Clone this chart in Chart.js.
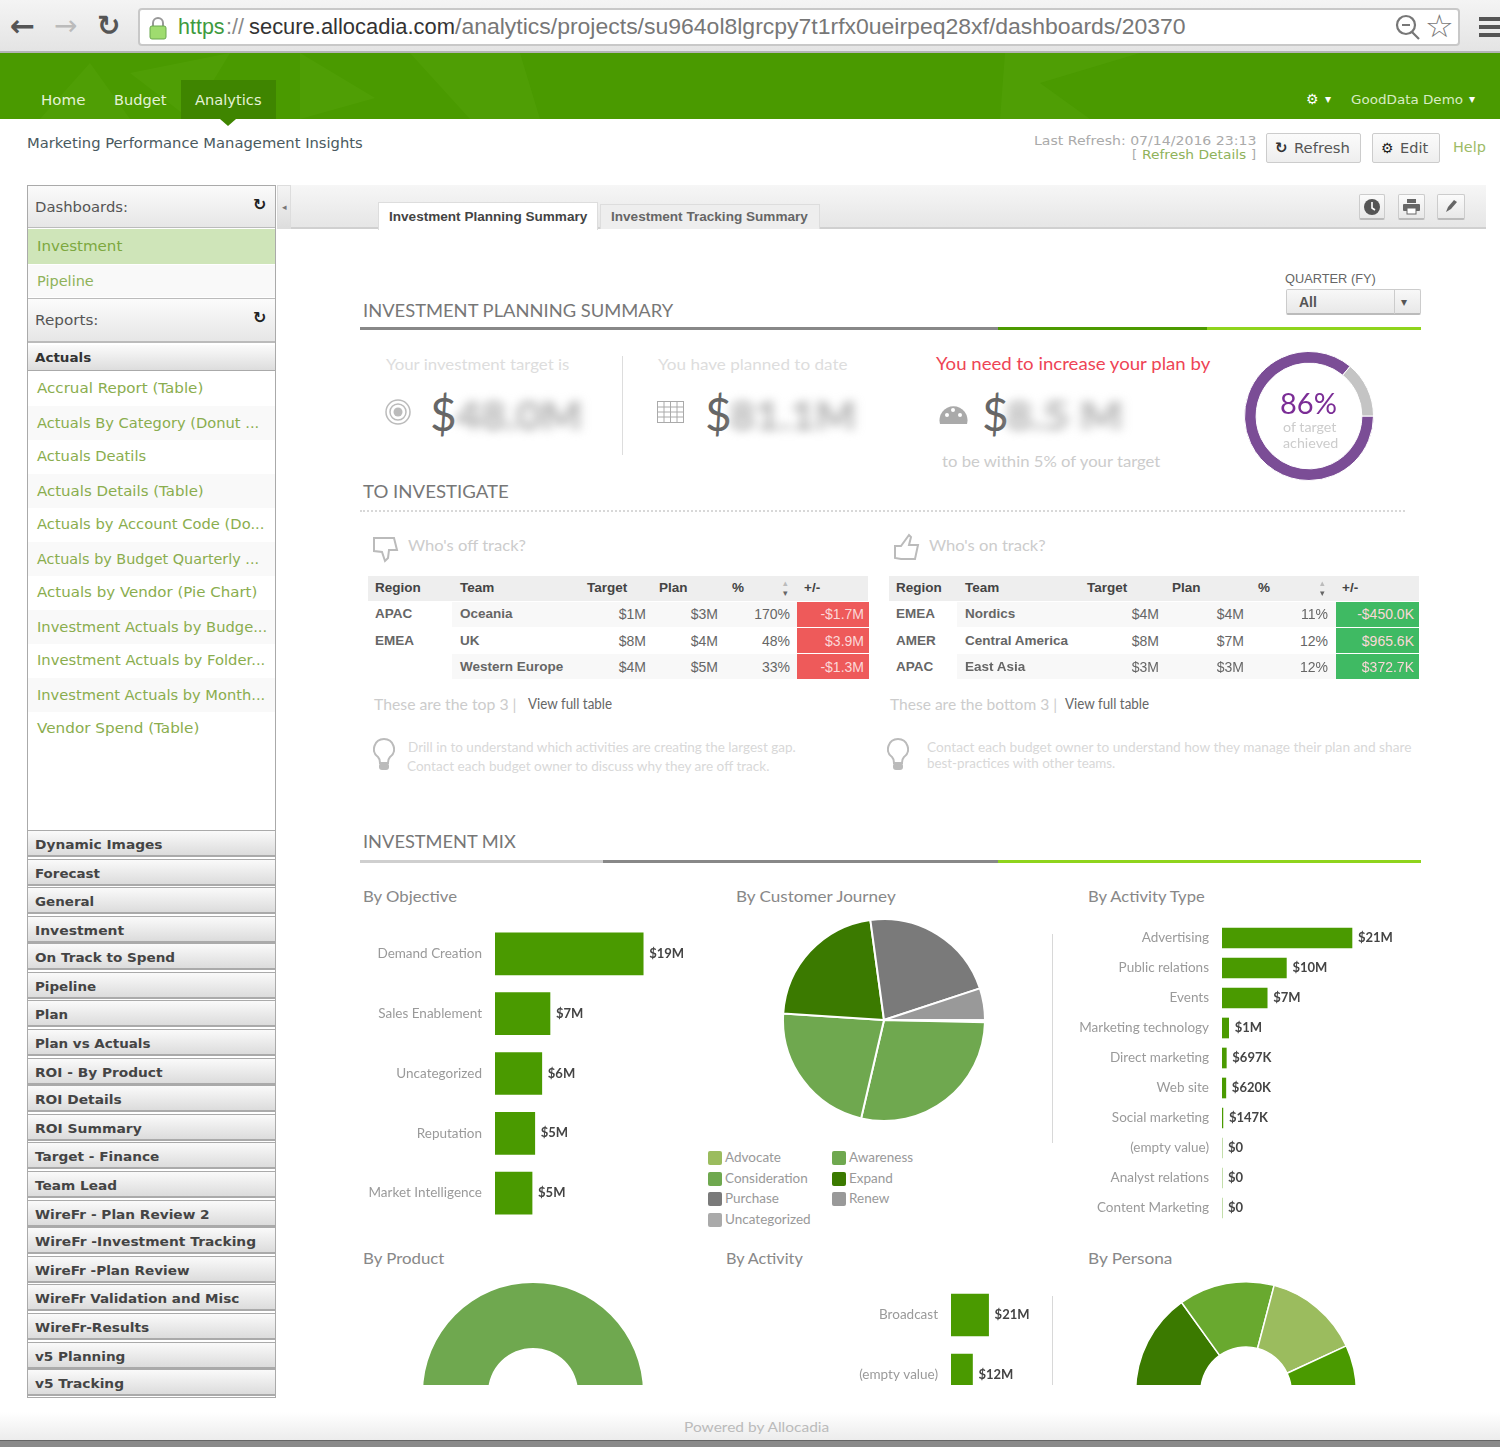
<!DOCTYPE html>
<html><head><meta charset="utf-8">
<script src="https://cdn.jsdelivr.net/npm/chart.js@4/dist/chart.umd.js"></script>
<style>
html,body{margin:0;padding:0;background:#fff}
#root{position:relative;width:1500px;height:1447px;overflow:hidden;background:#fff;font-family:Lato,sans-serif}
#root div,#root canvas,#root svg{position:absolute}
.t{white-space:nowrap;line-height:1}
</style></head><body><div id="root"></div>
<script>
// ---------- DATA ----------
const objectiveLabels=["Demand Creation","Sales Enablement","Uncategorized","Reputation","Market Intelligence"];
const objectiveValues=[19,7.05,6,5.1,4.75];
const objectiveText=["$19M","$7M","$6M","$5M","$5M"];
const journeyLabels=["Advocate","Awareness","Consideration","Expand","Purchase","Renew","Uncategorized"];
const journeyValues=[0.2,28.3,22.4,21.8,22.1,5.1,0.1];
const journeyColors=["#9bbc5e","#6fa84f","#6fa84f","#3b7a00","#7a7a7a","#999999","#aaaaaa"];
const activityTypeLabels=["Advertising","Public relations","Events","Marketing technology","Direct marketing","Web site","Social marketing","(empty value)","Analyst relations","Content Marketing"];
const activityTypeValues=[21,10.4,7.3,1.08,0.697,0.62,0.147,0,0,0];
const activityTypeText=["$21M","$10M","$7M","$1M","$697K","$620K","$147K","$0","$0","$0"];
const activityLabels=["Broadcast","(empty value)"];
const activityValues=[21,12];
const activityText=["$21M","$12M"];
const productValues=[100];
const personaValues=[30.2,28,28,13.8];
const personaColors=["#3b7a00","#69a92f","#9bbc5e","#4a9a00"];
const targetValues=[86,14];
const offHeader=["Region","Team","Target","Plan","%","+/-"];
const offRows=[["APAC","Oceania","$1M","$3M","170%","-$1.7M"],["EMEA","UK","$8M","$4M","48%","$3.9M"],["","Western Europe","$4M","$5M","33%","-$1.3M"]];
const onRows=[["EMEA","Nordics","$4M","$4M","11%","-$450.0K"],["AMER","Central America","$8M","$7M","12%","$965.6K"],["APAC","East Asia","$3M","$3M","12%","$372.7K"]];
const reportItems=[["Accrual Report (Table)",388,203],["Actuals By Category (Donut ...",423,259],["Actuals Deatils",456,146],["Actuals Details (Table)",491,204],["Actuals by Account Code (Do...",524,264],["Actuals by Budget Quarterly ...",559,259],["Actuals by Vendor (Pie Chart)",592,257],["Investment Actuals by Budge...",627,267],["Investment Actuals by Folder...",660,265],["Investment Actuals by Month...",695,265],["Vendor Spend (Table)",728,199]];
const folderItems=[["Dynamic Images",844,163],["Forecast",873,100],["General",901,94],["Investment",930,124],["On Track to Spend",957,175],["Pipeline",986,96],["Plan",1014,68],["Plan vs Actuals",1043,150],["ROI - By Product",1072,163],["ROI Details",1099,122],["ROI Summary",1128,142],["Target - Finance",1156,159],["Team Lead",1185,117],["WireFr - Plan Review 2",1214,210],["WireFr -Investment Tracking",1241,256],["WireFr -Plan Review",1270,190],["WireFr Validation and Misc",1298,239],["WireFr-Results",1327,149],["v5 Planning",1356,125],["v5 Tracking",1383,124]];

// ---------- HELPERS ----------
const root=document.getElementById('root');
const DJ='"DejaVu Sans"',LS='"Liberation Sans"',LA='Lato';
function box(x,y,w,h,bg,extra){const d=document.createElement('div');d.style.cssText=`left:${x}px;top:${y}px;width:${w}px;height:${h}px;background:${bg};box-sizing:border-box;${extra||''}`;root.appendChild(d);return d;}
function T(x,y,s,o){o=o||{};const d=document.createElement('div');d.className='t';d.textContent=s;
 d.style.cssText+=`top:${y}px;font-family:${o.f||LA};font-size:${o.s||14}px;color:${o.c||'#666'};font-weight:${o.b?'700':(o.wt||'400')};${o.r?`right:${1500-x}px;`:`left:${x}px;`}${o.css||''}`;
 root.appendChild(d);let tr='translateY(-50%)';
 if(o.w){tr+=` scaleX(${o.w/d.offsetWidth})`;d.style.transformOrigin=o.r?'right center':'left center';}
 d.style.transform=tr;return d;}
function svg(x,y,w,h,inner){const n=document.createElementNS('http://www.w3.org/2000/svg','svg');n.setAttribute('width',w);n.setAttribute('height',h);n.setAttribute('viewBox',`0 0 ${w} ${h}`);n.style.left=x+'px';n.style.top=y+'px';n.innerHTML=inner;root.appendChild(n);return n;}
function canvas(x,y,w,h,clipH){const c=document.createElement('canvas');c.width=w;c.height=h;c.style.width=w+'px';c.style.height=h+'px';
 if(clipH){const wr=document.createElement('div');wr.style.cssText=`left:${x}px;top:${y}px;width:${w}px;height:${clipH}px;overflow:hidden`;c.style.left='0';c.style.top='0';wr.appendChild(c);root.appendChild(wr);}
 else{c.style.left=x+'px';c.style.top=y+'px';root.appendChild(c);}
 return c;}
const valueLabels={id:'valueLabels',afterDatasetsDraw(ch,a,opts){const g=ch.ctx;g.save();g.font='700 13px Lato';g.fillStyle='#444';g.textBaseline='middle';g.textAlign='left';
 ch.getDatasetMeta(0).data.forEach((b,i)=>g.fillText(opts.text[i],b.x+opts.gap,b.y));g.restore();}};
function hbar(left,top,w,h,axisW,labels,values,text,pxPerUnit,thick,clipH,tickSize){
 const c=canvas(left,top,w,h,clipH);
 new Chart(c,{type:'bar',plugins:[valueLabels],data:{labels,datasets:[{data:values,backgroundColor:'#4a9a00',barThickness:thick,borderSkipped:false}]},
 options:{indexAxis:'y',responsive:false,animation:false,layout:{padding:0},
  plugins:{legend:{display:false},tooltip:{enabled:false},valueLabels:{text,gap:6}},
  scales:{x:{display:false,min:0,max:(w-axisW)/pxPerUnit},
   y:{afterFit(s){s.width=axisW;s.paddingTop=0;s.paddingBottom=0;},grid:{display:false,drawTicks:false},border:{display:false},
    ticks:{autoSkip:false,padding:13,color:'#9a9a9a',font:{family:'Lato',size:tickSize||13.5}}}}}});
}
function arcChart(c,data,colors,opt){new Chart(c,{type:'doughnut',data:{labels:data.map((_,i)=>String(i)),datasets:[{data,backgroundColor:colors,borderColor:opt.bc||'#fff',borderWidth:opt.bw==null?2:opt.bw}]},
 options:{responsive:false,animation:false,layout:{padding:0},rotation:opt.rot,circumference:opt.circ,cutout:opt.cut,plugins:{legend:{display:false},tooltip:{enabled:false}}}});}

// ---------- BROWSER CHROME ----------
box(0,0,1500,53,'linear-gradient(#f4f4f4,#e4e4e4)','border-bottom:2px solid #b5b5b5');
box(138,8,1322,38,'#fff','border:2px solid #c8c8c8;border-radius:4px');
T(10,26,'←',{f:DJ,s:30,c:'#555',b:1});T(54,26,'→',{f:DJ,s:28,c:'#bbb'});T(97,26,'↻',{f:DJ,s:28,c:'#555',b:1});
svg(148,16,20,24,'<path d="M5 10V7a5 5 0 0 1 10 0v3" fill="none" stroke="#999" stroke-width="2"/><rect x="2" y="10" width="16" height="13" rx="2" fill="#9fdc6f" stroke="#6aa84f"/>');
T(178,28,'https',{f:LS,s:21.5,c:'#3e9a3e'});
T(226,28,'://',{f:LS,s:21.5,c:'#888'});
T(249,28,'secure.allocadia.com',{f:LS,s:21.5,c:'#333',w:206});
T(455,28,'/analytics/projects/su964ol8lgrcpy7t1rfx0ueirpeq28xf/dashboards/20370',{f:LS,s:21.5,c:'#777',w:731});
svg(1394,14,28,28,'<circle cx="12" cy="11" r="9" fill="none" stroke="#777" stroke-width="2.2"/><path d="M18 18l7 7M8 11h8" stroke="#777" stroke-width="2.2"/>');
T(1425,26,'☆',{f:DJ,s:32,c:'#777'});
box(1479,17,21,4,'#555');box(1479,25,21,4,'#555');box(1479,33,21,4,'#555');

// ---------- GREEN HEADER ----------
box(0,53,1500,66,'#4a9a00');
svg(0,53,1500,66,'<g fill="#5aa70f" opacity=".35"><polygon points="40,66 90,10 130,66"/><polygon points="130,20 230,0 190,66"/><polygon points="300,0 375,45 300,66"/><polygon points="410,0 520,0 540,66 470,66"/><polygon points="1000,66 1005,0 1140,0 1040,30 1090,66"/></g>');
T(41,100,'Home',{f:DJ,s:14,c:'#e4f2d6',w:44});T(114,100,'Budget',{f:DJ,s:14,c:'#e4f2d6',w:52});
box(181,80,95,39,'#3f8500');svg(220,119,16,7,'<polygon points="0,0 16,0 8,7" fill="#3f8500"/>');
T(195,100,'Analytics',{f:DJ,s:14,c:'#e4f2d6',w:67});
T(1306,99,'⚙',{f:DJ,s:14,c:'#fff'});T(1325,99,'▾',{f:DJ,s:12,c:'#fff'});
T(1351,99,'GoodData Demo',{f:DJ,s:13,c:'#d8ecc4',w:112});T(1469,99,'▾',{f:DJ,s:12,c:'#fff'});

// ---------- TOP STRIP ----------
T(27,143,'Marketing Performance Management Insights',{f:DJ,s:14,c:'#4a5a60',w:336});
T(1256,140,'Last Refresh: 07/14/2016 23:13',{f:DJ,s:13,c:'#aaa',r:1,w:222});
T(1132,154,'[',{f:DJ,s:13,c:'#aaa'});
T(1142,154,'Refresh Details',{f:DJ,s:13,c:'#8fb25a',w:104});
T(1256,154,']',{f:DJ,s:13,c:'#aaa',r:1});
box(1266,133,95,30,'linear-gradient(#fbfbfb,#eee)','border:1px solid #ccc;border-radius:2px');
T(1275,148,'↻',{f:DJ,s:15,c:'#333',b:1});T(1294,148,'Refresh',{f:DJ,s:14,c:'#555',w:56});
box(1372,133,68,30,'linear-gradient(#fbfbfb,#eee)','border:1px solid #ccc;border-radius:2px');
T(1381,148,'⚙',{f:DJ,s:14,c:'#222',b:1});T(1400,148,'Edit',{f:DJ,s:14,c:'#555',w:28});
T(1453,147,'Help',{f:DJ,s:14,c:'#9dbb66',w:33});

// ---------- TAB BAR ----------
box(277,185,14,44,'linear-gradient(#f4f4f4,#ddd)','border:1px solid #ddd');T(282,207,'◂',{f:DJ,s:9,c:'#777'});
box(291,185,1195,44,'linear-gradient(#f6f6f6,#e6e6e6)','border-bottom:2px solid #d0d0d0');
box(378,202,220,28,'#fff','border:1px solid #ddd;border-bottom:none');
T(389,217,'Investment Planning Summary',{f:LS,s:13.5,b:1,c:'#444',w:198});
box(600,204,220,25,'#eee','border:1px solid #ddd;border-bottom:none');
T(611,217,'Investment Tracking Summary',{f:LS,s:13.5,b:1,c:'#666',w:197});
[[1359,26],[1398,27],[1437,28]].forEach(([x,w])=>box(x,194,w,26,'linear-gradient(#fbfbfb,#e8e8e8)','border:1px solid #ccc;border-bottom:2px solid #bbb;border-radius:2px'));
svg(1363,198,18,18,'<circle cx="9" cy="9" r="8" fill="#555"/><path d="M9 4v6l3 2" stroke="#fff" stroke-width="1.6" fill="none"/>');
svg(1403,199,17,16,'<rect x="4" y="0" width="9" height="4" fill="#666"/><rect x="0" y="5" width="17" height="7" rx="1" fill="#666"/><rect x="4" y="9" width="9" height="6" fill="#fff" stroke="#666"/>');
svg(1444,199,14,15,'<path d="M2 13l2-5 6-7 3 2-6 7z" fill="#666"/>');

// ---------- SIDEBAR ----------
box(27,185,249,1213,'#fff','border:1px solid #aaa');
box(28,186,247,42,'linear-gradient(#fbfbfb,#e6e6e6)','border-bottom:1px solid #bbb');
T(35,207,'Dashboards:',{f:DJ,s:14,c:'#555',w:93});T(253,205,'↻',{f:DJ,s:16,c:'#222',b:1});
box(28,229,247,35,'#cfe5b9');T(37,246,'Investment',{f:DJ,s:14,c:'#7da83f',w:85});
box(28,265,247,32,'#f9f9f9');T(37,281,'Pipeline',{f:DJ,s:14,c:'#8fb25a',w:57});
box(28,298,247,45,'linear-gradient(#fbfbfb,#e6e6e6)','border-top:1px solid #bbb;border-bottom:2px solid #bbb');
T(35,320,'Reports:',{f:DJ,s:14,c:'#555',w:63});T(253,318,'↻',{f:DJ,s:16,c:'#222',b:1});
box(28,345,247,26,'linear-gradient(#fbfbfb,#ddd)','border-bottom:1px solid #aaa');T(35,357,'Actuals',{f:DJ,s:13,b:1,c:'#333',w:56});
reportItems.forEach(([s,y,end],i)=>{if(i%2==1)box(28,y-17,247,34,'#f9f9f9');T(37,y,s,{f:DJ,s:14,c:'#8aad4e',w:end-37});});
folderItems.forEach(([s,y,end])=>{box(28,y-14,247,27,'linear-gradient(#fafafa,#dcdcdc)','border-top:1px solid #aaa;border-bottom:2px solid #aaa');T(35,y,s,{f:DJ,s:13,b:1,c:'#444',w:end-35});});

// ---------- PLANNING SUMMARY ----------
T(1285,279,'QUARTER (FY)',{f:LS,s:13.5,c:'#666',w:91});
box(1286,289,135,26,'linear-gradient(#f8f8f8,#e8e8e8)','border:1px solid #ccc;border-bottom:2px solid #bbb;border-radius:2px');
box(1394,290,1,24,'#ccc');T(1299,302,'All',{f:LS,s:14,b:1,c:'#555'});T(1401,302,'▾',{f:DJ,s:12,c:'#555'});
T(363,310,'INVESTMENT PLANNING SUMMARY',{s:18,c:'#777',w:310});
box(360,327,638,3,'#888');box(998,327,209,3,'#4c9a00');box(1207,327,214,3,'#8fd41c');
T(386,364,'Your investment target is',{s:16,c:'#ddd',w:183});
T(658,364,'You have planned to date',{s:16,c:'#ddd',w:189});
T(936,363,'You need to increase your plan by',{s:18,c:'#ee4455',w:274});
T(942,461,'to be within 5% of your target',{s:16,c:'#ccc',w:218});
box(622,356,1,99,'#ddd');
[[430,'48.0M',456,126],[705,'81.1M',730,126],[982,'8.5 M',1006,116]].forEach(([x,v,vx,w])=>{
 T(x,414,'$',{s:46,c:'#666',wt:400});T(vx,415,v,{s:40,b:1,c:'#aaa',w,css:'filter:blur(5px);'});});
svg(385,399,26,26,'<circle cx="13" cy="13" r="12" fill="none" stroke="#bbb" stroke-width="1.5"/><circle cx="13" cy="13" r="8" fill="none" stroke="#bbb" stroke-width="1.5"/><circle cx="13" cy="13" r="4.5" fill="#bbb"/>');
svg(657,401,27,22,'<g fill="none" stroke="#aaa"><rect x=".5" y=".5" width="26" height="21"/><path d="M.5 6h26M.5 11h26M.5 16h26M7 .5v21M13.500 .5v21M20 .5v21"/></g>');
svg(939,403,29,22,'<path d="M1 21a14 14 0 1 1 27 0z" fill="#aaa"/><circle cx="8" cy="12" r="2" fill="#fff"/><circle cx="14" cy="7" r="2" fill="#fff"/><circle cx="21" cy="12" r="2" fill="#fff"/>');
const ringC=canvas(1244,351,130,130);arcChart(ringC,targetValues,['#7b4d96','#c4c4c4'],{rot:90,circ:360,cut:'82%',bw:1});
T(1280,402,'86%',{s:29,c:'#7b2d96'});
T(1283,427,'of target',{s:14,c:'#ccc',w:53});T(1283,443,'achieved',{s:14,c:'#ccc',w:55});

T(363,491,'TO INVESTIGATE',{s:18,c:'#777',w:146});
box(360,510,1045,2,'transparent','border-top:2px dotted #d8d8d8');

// ---------- TABLES ----------
svg(372,534,27,30,'<path d="M2 4h8l12 0 3 12h-8l-1 8-3 3-3-9-8-1z" fill="#fff" stroke="#bbb" stroke-width="2"/>');
T(408,545,"Who's off track?",{s:16,c:'#ccc',w:118});
svg(893,532,27,30,'<path d="M2 14h6l8-11 2 2-2 8h9l-3 14H8l-6-1z" fill="#fff" stroke="#bbb" stroke-width="2"/>');
T(929,545,"Who's on track?",{s:16,c:'#ccc',w:117});
function table(x0,w0,cols,rows,boxX,boxW,boxColor,valR){
 box(x0,576,w0,25,'#eeeeee');
 offHeader.forEach((h,i)=>T(cols[i],588,h,{f:LS,s:13.5,b:1,c:'#444'}));
 T(cols[6],583,'▴',{f:DJ,s:9,c:'#bbb'});T(cols[6],593,'▾',{f:DJ,s:9,c:'#666'});
 const ys=[614,641,667],tops=[602,628,654],hs=[25,25,25];
 rows.forEach((r,i)=>{
  box(cols[1]-8,tops[i],w0-(cols[1]-8-x0),hs[i],i%2==0?'#f8f8f8':'#fff');
  if(r[0])T(cols[0],ys[i],r[0],{f:LS,s:13.5,b:1,c:'#666'});
  T(cols[1],ys[i],r[1],{f:LS,s:13.5,b:1,c:'#666'});
  T(valR[0],ys[i],r[2],{f:LS,s:14,c:'#666',r:1});T(valR[1],ys[i],r[3],{f:LS,s:14,c:'#666',r:1});T(valR[2],ys[i],r[4],{f:LS,s:14,c:'#666',r:1});
  box(boxX,tops[i],boxW,hs[i],boxColor);
  T(boxX+boxW-5,ys[i],r[5],{f:LS,s:14,c:'#fbd8d8',r:1});
 });
}
table(368,500,[375,460,587,659,732,804,783],offRows,797,72,'#ee5a5a',[646,718,790]);
table(889,530,[896,965,1087,1172,1258,1342,1320],onRows,1336,83,'#3fba63',[1159,1244,1328]);
T(374,704,'These are the top 3 |',{s:15,c:'#ccc',w:143});T(528,704,'View full table',{s:14.5,c:'#666',w:84});
T(890,704,'These are the bottom 3 |',{s:15,c:'#ccc',w:167});T(1065,704,'View full table',{s:14.5,c:'#666',w:84});
const bulb='<path d="M11 1a10 10 0 0 0-6 18c2 2 2 4 2 6h8c0-2 0-4 2-6a10 10 0 0 0-6-18z" fill="#fff" stroke="#bbb" stroke-width="2"/><rect x="6" y="25" width="10" height="7" rx="3" fill="#bbb"/>';
svg(373,738,22,34,bulb);svg(887,738,22,34,bulb);
T(408,747,'Drill in to understand which activities are creating the largest gap.',{s:13,c:'#d8d8d8',w:388});
T(407,766,'Contact each budget owner to discuss why they are off track.',{s:13,c:'#d8d8d8',w:362});
T(927,747,'Contact each budget owner to understand how they manage their plan and share',{s:13,c:'#d8d8d8',w:484});
T(927,763,'best-practices with other teams.',{s:13,c:'#d8d8d8',w:188});

// ---------- INVESTMENT MIX ----------
T(363,841,'INVESTMENT MIX',{s:18,c:'#777',w:153});
box(360,860,243,3,'#cfcfcf');box(603,860,395,3,'#888');box(998,860,423,3,'#8fd41c');
T(363,896,'By Objective',{s:16,c:'#888',w:94});T(736,896,'By Customer Journey',{s:16,c:'#888',w:160});T(1088,896,'By Activity Type',{s:16,c:'#888',w:117});
T(363,1258,'By Product',{s:16,c:'#888',w:81});T(726,1258,'By Activity',{s:16,c:'#888',w:77});T(1088,1258,'By Persona',{s:16,c:'#888',w:84});
box(1052,934,1,209,'#d8d8d8');box(1052,1296,1,89,'#d8d8d8');

hbar(362,924,338,299,133,objectiveLabels,objectiveValues,objectiveText,7.8,42);
hbar(1062,923,340,300,160,activityTypeLabels,activityTypeValues,activityTypeText,6.19,20);
hbar(791,1285,250,120,160,activityLabels,activityValues,activityText,1.79,42,100);

const pieC=canvas(782,918,204,204);
arcChart(pieC,journeyValues,journeyColors,{rot:90.5,circ:360,cut:0,bw:2});
const swatchPos=[[708,1158],[832,1158],[708,1179],[832,1179],[708,1199],[832,1199],[708,1220]];
journeyLabels.forEach((s,i)=>{const [x,y]=swatchPos[i];box(x,y-7,14,14,journeyColors[i],'border-radius:2px');T(x+17,y,s,{s:13.5,c:'#999'});});

const prodC=canvas(423,1283,220,110,102);
arcChart(prodC,productValues,['#6fa84f'],{rot:-90,circ:180,cut:'41%',bw:0});
const persC=canvas(1134,1281,224,112,104);
arcChart(persC,personaValues,personaColors,{rot:-90,circ:180,cut:'41%',bw:1.5});

// ---------- FOOTER ----------
box(0,1412,1500,28,'linear-gradient(#fff,#ececec)');
T(684,1427,'Powered by Allocadia',{s:14,c:'#bbb',w:145});
box(0,1440,1500,7,'#8a8a8a');box(0,1440,1500,1,'#666');
</script></body></html>
